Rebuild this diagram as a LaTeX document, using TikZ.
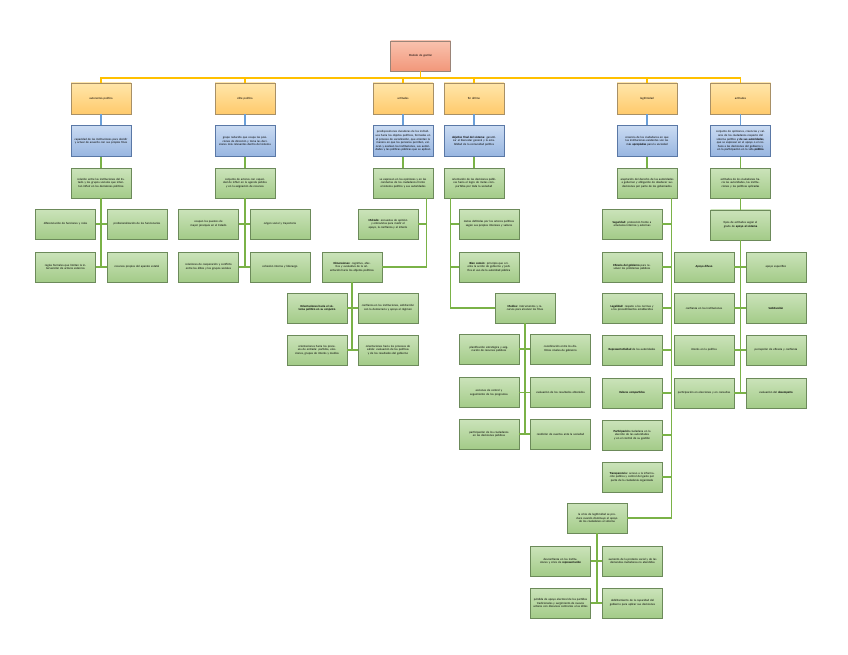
\documentclass[tikz,border=0pt]{standalone}
\usepackage{fontspec}
\setmainfont{Carlito}
\usetikzlibrary{positioning, shadows}

\definecolor{roottop}{HTML}{F9C2AE}
\definecolor{rootbot}{HTML}{F2977A}
\definecolor{rootline}{HTML}{9A8478}
\definecolor{yelltop}{HTML}{FFE6AA}
\definecolor{yellbot}{HTML}{FFCA6C}
\definecolor{yellline}{HTML}{A89066}
\definecolor{bluetop}{HTML}{CADBF2}
\definecolor{bluebot}{HTML}{97B5E0}
\definecolor{blueline}{HTML}{5A78A6}
\definecolor{greentop}{HTML}{CBE3BA}
\definecolor{greenbot}{HTML}{A3CB88}
\definecolor{greenline}{HTML}{6C8A5A}
\definecolor{busline}{HTML}{FFC000}
\definecolor{bconnline}{HTML}{6A9FD8}
\definecolor{gconnline}{HTML}{7AB247}

\begin{document}
\begin{tikzpicture}[x=1pt, y=-1pt,
  box/.style={draw, minimum width=60pt, minimum height=30pt, text width=55pt,
              inner sep=1.5pt, align=center, line width=0.6pt,
              font=\fontsize{3}{3.6}\selectfont,
              drop shadow={shadow xshift=0.8pt, shadow yshift=-0.8pt, opacity=0.3}},
  rootbox/.style={box, top color=roottop, bottom color=rootbot, draw=rootline},
  yellbox/.style={box, minimum height=31pt, top color=yelltop, bottom color=yellbot, draw=yellline},
  bluebox/.style={box, minimum height=31pt, top color=bluetop, bottom color=bluebot, draw=blueline},
  greenbox/.style={box, top color=greentop, bottom color=greenbot, draw=greenline},
  yconn/.style={draw=busline, line width=1.6pt},
  bconn/.style={draw=bconnline, line width=1.3pt},
  gconn/.style={draw=gconnline, line width=1.5pt}
]
  \useasboundingbox (0,0) rectangle (848,655);

  % Root and first level
  \node[rootbox] (root) at (420.5,56) {Modelo de gestión};
  \node[yellbox] (a1) at (101,98.5) {autonomía política};
  \node[yellbox] (b1) at (245,98.5) {élite política};
  \node[yellbox] (c1) at (403,98.5) {actitudes};
  \node[yellbox] (d1) at (474,98.5) {fin último};
  \node[yellbox] (e1) at (647,98.5) {legitimidad};
  \node[yellbox] (f1) at (740.5,98.5) {actitudes};
  \coordinate (bus) at (101,78);

  % Blue definitions
  \node[bluebox, below=11pt of a1] (a2) {capacidad de las instituciones para decidir y actuar de acuerdo con sus propios fines};
  \node[bluebox, below=11pt of b1] (b2) {grupo reducido que ocupa las posiciones de dirección y toma las decisiones más relevantes dentro del sistema};
  \node[bluebox, below=11pt of c1] (c2) {predisposiciones duraderas de los individuos hacia los objetos políticos, formadas en el proceso de socialización, que orientan la manera en que las personas perciben, valoran y evalúan las instituciones, sus autoridades y las políticas públicas que se aplican};
  \node[bluebox, below=11pt of d1] (d2) {\textbf{objetivo final del sistema}: garantizar el bienestar general y la estabilidad de la comunidad política};
  \node[bluebox, below=11pt of e1] (e2) {creencia de los ciudadanos en que las instituciones existentes son las más \textbf{apropiadas} para la sociedad};
  \node[bluebox, below=11pt of f1] (f2) {conjunto de opiniones, creencias y valores de los ciudadanos respecto del sistema político \textbf{y de sus autoridades}, que se expresan en el apoyo o el rechazo a las decisiones del gobierno y en la participación en la vida \textbf{pública}};

  % Green second level
  \node[greenbox, below=11pt of a2] (a3) {relación entre las instituciones del Estado y los grupos sociales que intentan influir en las decisiones políticas};
  \node[greenbox, below=11pt of b2] (b3) {conjunto de actores con capacidad de influir en la agenda pública y en la asignación de recursos};
  \node[greenbox, below=11pt of c2] (c3) {se expresan en las opiniones y en las conductas de los ciudadanos frente al sistema político y sus autoridades};
  \node[greenbox, below=11pt of d2] (d3) {orientación de las decisiones públicas hacia el logro de metas compartidas por toda la sociedad};
  \node[greenbox, below=11pt of e2] (e3) {aceptación del derecho de las autoridades a gobernar y obligación de obedecer sus decisiones por parte de los gobernados};
  \node[greenbox, below=11pt of f2] (f3) {actitudes de los ciudadanos hacia las autoridades, las instituciones y las políticas aplicadas};

  % Branch a
  \node[greenbox] (a4) at (65.5,224) {diferenciación de funciones y roles};
  \node[greenbox] (a5) at (137,224) {profesionalización de los funcionarios};
  \node[greenbox] (a6) at (65.5,267) {reglas formales que limitan la intervención de actores externos};
  \node[greenbox] (a7) at (137,267) {recursos propios del aparato estatal};

  % Branch b
  \node[greenbox] (b4) at (208.5,224) {ocupan los puestos de mayor jerarquía en el Estado};
  \node[greenbox] (b5) at (280,224) {origen social y trayectoria};
  \node[greenbox] (b6) at (208.5,267) {relaciones de cooperación y conflicto entre las élites y los grupos sociales};
  \node[greenbox] (b7) at (280,267) {cohesión interna y liderazgo};

  % Branch c
  \node[greenbox] (c4) at (388,224) {\textbf{Método:} encuestas de opinión y entrevistas para medir el apoyo, la confianza y el interés};
  \node[greenbox] (c5) at (352,267) {\textbf{Dimensiones:} cognitiva, afectiva y evaluativa de la orientación hacia los objetos políticos};
  \node[greenbox] (c6) at (317,308) {\textbf{Orientaciones hacia el sistema político en su conjunto}};
  \node[greenbox] (c7) at (388,308) {confianza en las instituciones, satisfacción con la democracia y apoyo al régimen};
  \node[greenbox] (c8) at (317,350) {orientaciones hacia los procesos de entrada: partidos, elecciones, grupos de interés y medios};
  \node[greenbox] (c9) at (388,350) {orientaciones hacia los procesos de salida: evaluación de las políticas y de los resultados del gobierno};

  % Branch d
  \node[greenbox] (d4) at (489,224) {metas definidas por los actores políticos según sus propios intereses y valores};
  \node[greenbox] (d5) at (489,267) {\textbf{Bien común:} principio que orienta la acción de gobierno y justifica el uso de la autoridad pública};
  \node[greenbox] (d6) at (525,308) {\textbf{Medios:} instrumentos y recursos para alcanzar los fines};
  \node[greenbox] (d7) at (489,349) {planificación estratégica y asignación de recursos públicos};
  \node[greenbox] (d8) at (560.5,349) {coordinación entre los distintos niveles de gobierno};
  \node[greenbox] (d9) at (489,392.5) {acciones de control y seguimiento de los programas};
  \node[greenbox] (d10) at (560.5,392.5) {evaluación de los resultados obtenidos};
  \node[greenbox] (d11) at (489,434) {participación de los ciudadanos en las decisiones públicas};
  \node[greenbox] (d12) at (560.5,434) {rendición de cuentas ante la sociedad};

  % Branch e
  \node[greenbox] (e4) at (632,224) {\textbf{Seguridad:} protección frente a amenazas internas y externas};
  \node[greenbox] (e5) at (632,267) {\textbf{Eficacia del gobierno} para resolver los problemas públicos};
  \node[greenbox] (e6) at (632,308) {\textbf{Legalidad:} respeto a las normas y a los procedimientos establecidos};
  \node[greenbox] (e7) at (632,350) {\textbf{Representatividad} de las autoridades};
  \node[greenbox] (e8) at (632,393) {\textbf{Valores compartidos}};
  \node[greenbox] (e9) at (632,435) {\textbf{Participación} ciudadana en la elección de las autoridades y en el control de su gestión};
  \node[greenbox] (e10) at (632,477) {\textbf{Transparencia:} acceso a la información pública y control del gasto por parte de la ciudadanía organizada};
  \node[greenbox] (e11) at (597,518) {la crisis de legitimidad se produce cuando disminuye el apoyo de los ciudadanos al sistema};
  \node[greenbox] (e12) at (560.5,561) {desconfianza en las instituciones y crisis de \textbf{representación}};
  \node[greenbox] (e13) at (632.5,561) {aumento de la protesta social y de las demandas ciudadanas no atendidas};
  \node[greenbox] (e14) at (560.5,603) {pérdida de apoyo electoral de los partidos tradicionales y surgimiento de nuevos actores con discursos contrarios a las élites};
  \node[greenbox] (e15) at (632.5,603) {debilitamiento de la capacidad del gobierno para aplicar sus decisiones};

  % Branch f
  \node[greenbox, below=11pt of f3] (f4) {tipos de actitudes según el grado de \textbf{apoyo al sistema}};
  \node[greenbox] (f5) at (704,267) {\textbf{Apoyo difuso}};
  \node[greenbox] (f6) at (776,267) {apoyo específico};
  \node[greenbox] (f7) at (704,308) {confianza en las instituciones};
  \node[greenbox] (f8) at (776,308) {\textbf{Satisfacción}};
  \node[greenbox] (f9) at (704,350) {interés en la política};
  \node[greenbox] (f10) at (776,350) {percepción de eficacia y confianza};
  \node[greenbox] (f11) at (704,393) {participación en elecciones y en consultas};
  \node[greenbox] (f12) at (776,393) {evaluación del \textbf{desempeño}};

  % Top bus
  \draw[yconn] (root) -- (root |- bus);
  \draw[yconn] (a1) -- (a1 |- bus) -- (f1 |- bus) -- (f1);
  \foreach \b in {b,c,d,e}
    \draw[yconn] (\b1) -- (\b1 |- bus);

  % Vertical stacks
  \foreach \b in {a,b,c,d,e,f} {
    \draw[bconn] (\b1) -- (\b2);
    \draw[gconn] (\b2) -- (\b3);
  }

  % Trunks and side connectors
  \draw[gconn] (a3) -- (a3 |- a6);
  \draw[gconn] (a4) -- (a5);
  \draw[gconn] (a6) -- (a7);
  \draw[gconn] (b3) -- (b3 |- b6);
  \draw[gconn] (b4) -- (b5);
  \draw[gconn] (b6) -- (b7);

  \coordinate (ctrunk) at ([xshift=-7pt]c3.south east);
  \draw[gconn] (ctrunk) |- (c5);
  \draw[gconn] (c4) -- (c4 -| ctrunk);
  \draw[gconn] (c5) -- (c5 |- c8);
  \draw[gconn] (c6) -- (c7);
  \draw[gconn] (c8) -- (c9);

  \coordinate (dtrunk) at ([xshift=7pt]d3.south west);
  \draw[gconn] (dtrunk) |- (d6);
  \draw[gconn] (d4) -- (d4 -| dtrunk);
  \draw[gconn] (d5) -- (d5 -| dtrunk);
  \draw[gconn] (d6) -- (d6 |- d11);
  \draw[gconn] (d7) -- (d8);
  \draw[gconn] (d9) -- (d10);
  \draw[gconn] (d11) -- (d12);

  \coordinate (etrunk) at ([xshift=-6pt]e3.south east);
  \draw[gconn] (etrunk) |- (e11);
  \foreach \n in {4,...,10}
    \draw[gconn] (e\n) -- (e\n -| etrunk);
  \draw[gconn] (e11) -- (e11 |- e14);
  \draw[gconn] (e12) -- (e13);
  \draw[gconn] (e14) -- (e15);

  \draw[gconn] (f3) -- (f4);
  \draw[gconn] (f4) -- (f4 |- f11);
  \draw[gconn] (f5) -- (f6);
  \draw[gconn] (f7) -- (f8);
  \draw[gconn] (f9) -- (f10);
  \draw[gconn] (f11) -- (f12);

\end{tikzpicture}
\end{document}
